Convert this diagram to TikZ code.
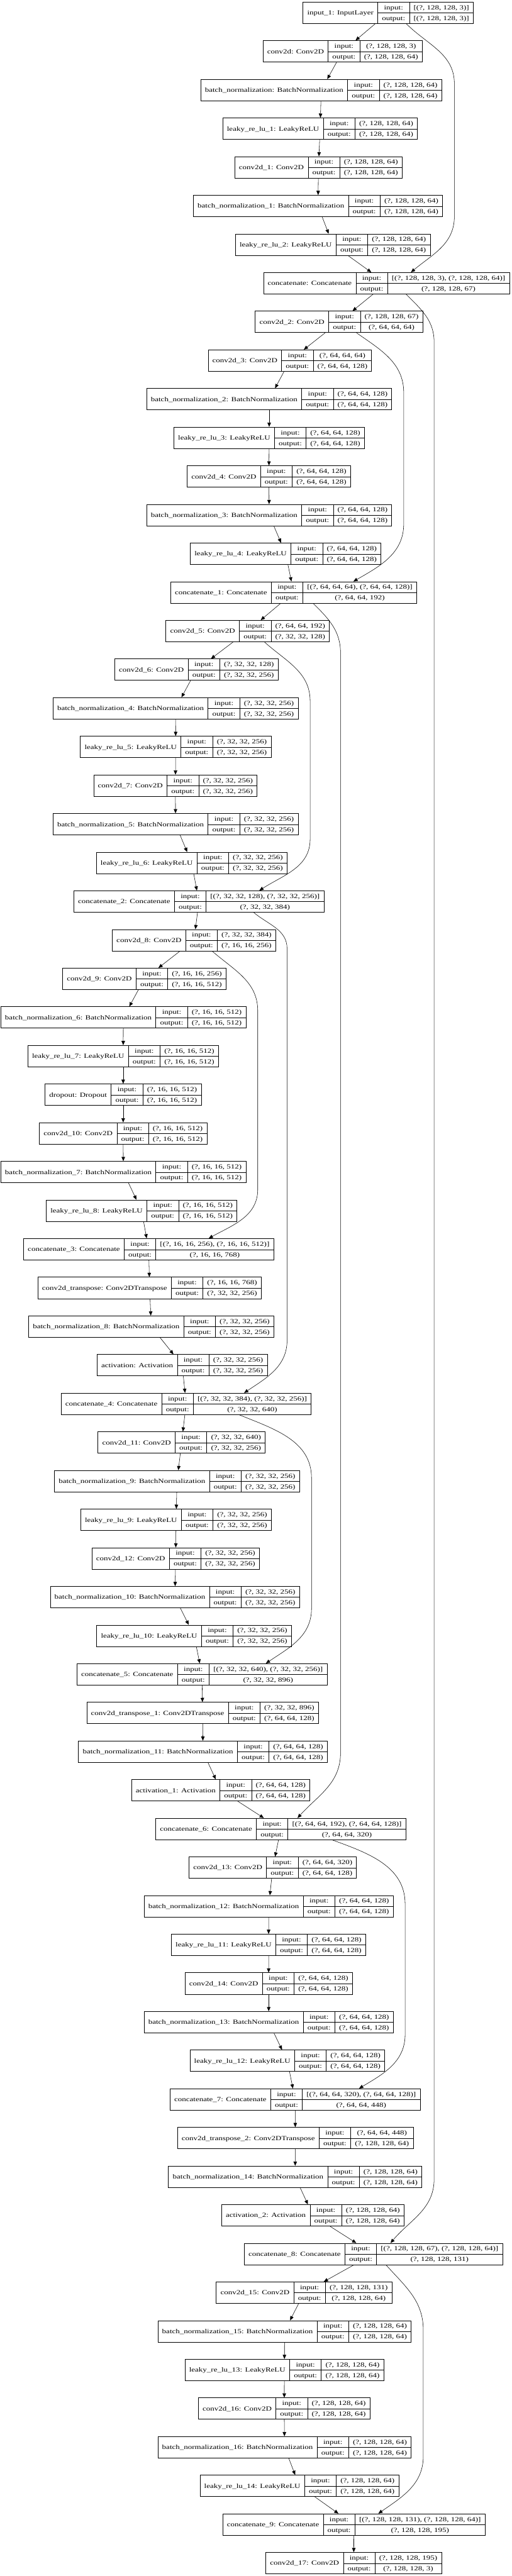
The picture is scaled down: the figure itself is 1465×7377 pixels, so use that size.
\documentclass[tikz,border=0pt]{standalone}
\usepackage{fontspec}
\setmainfont{Liberation Serif}[FakeStretch=1.3]
\usepackage{tikz}
\usetikzlibrary{arrows.meta,calc}
\setlength{\tabcolsep}{6.07pt}
\setlength{\arrayrulewidth}{0.6pt}
\renewcommand{\arraystretch}{1.42}
\newcommand{\lyr}[3]{%
  \begin{tabular}{c|c|c}
    & input: & #2\\ \cline{2-3}
    \raisebox{7.67pt}[0pt][0pt]{#1} & output: & #3
  \end{tabular}}

\begin{document}
\begin{tikzpicture}[->,>={Triangle[length=6pt,width=5pt]},line width=0.5pt,x=0.5pt,y=-0.5pt,
  layer/.style={draw,->,inner sep=0pt,line width=0.7pt,font=\fontsize{9}{10.8}\selectfont}]

    \useasboundingbox (0,0) rectangle (1465,7377);

    % The encoder
	\node [layer] at (1111.4,36.6) (in1) {\lyr{input\_1: InputLayer}{[(?, 128, 128, 3)]}{[(?, 128, 128, 3)]}};
	\node [layer] at (981.0,147.2) (c0) {\lyr{conv2d: Conv2D}{(?, 128, 128, 3)}{(?, 128, 128, 64)}};
	\node [layer] at (919.8,257.9) (bn0) {\lyr{batch\_normalization: BatchNormalization}{(?, 128, 128, 64)}{(?, 128, 128, 64)}};
	\node [layer] at (916.6,368.5) (lr1) {\lyr{leaky\_re\_lu\_1: LeakyReLU}{(?, 128, 128, 64)}{(?, 128, 128, 64)}};
	\node [layer] at (911.9,479.2) (c1) {\lyr{conv2d\_1: Conv2D}{(?, 128, 128, 64)}{(?, 128, 128, 64)}};
	\node [layer] at (910.5,589.9) (bn1) {\lyr{batch\_normalization\_1: BatchNormalization}{(?, 128, 128, 64)}{(?, 128, 128, 64)}};
	\node [layer] at (953.0,700.5) (lr2) {\lyr{leaky\_re\_lu\_2: LeakyReLU}{(?, 128, 128, 64)}{(?, 128, 128, 64)}};
	\node [layer] at (1106.7,811.2) (cat0) {\lyr{concatenate: Concatenate}{[(?, 128, 128, 3), (?, 128, 128, 64)]}{(?, 128, 128, 67)}};
	\node [layer] at (970.8,921.8) (c2) {\lyr{conv2d\_2: Conv2D}{(?, 128, 128, 67)}{(?, 64, 64, 64)}};
	\node [layer] at (830.1,1032.5) (c3) {\lyr{conv2d\_3: Conv2D}{(?, 64, 64, 64)}{(?, 64, 64, 128)}};
	\node [layer] at (770.8,1143.2) (bn2) {\lyr{batch\_normalization\_2: BatchNormalization}{(?, 64, 64, 128)}{(?, 64, 64, 128)}};
	\node [layer] at (770.8,1253.8) (lr3) {\lyr{leaky\_re\_lu\_3: LeakyReLU}{(?, 64, 64, 128)}{(?, 64, 64, 128)}};
	\node [layer] at (769.9,1364.5) (c4) {\lyr{conv2d\_4: Conv2D}{(?, 64, 64, 128)}{(?, 64, 64, 128)}};
	\node [layer] at (770.8,1475.1) (bn3) {\lyr{batch\_normalization\_3: BatchNormalization}{(?, 64, 64, 128)}{(?, 64, 64, 128)}};
	\node [layer] at (818.0,1585.8) (lr4) {\lyr{leaky\_re\_lu\_4: LeakyReLU}{(?, 64, 64, 128)}{(?, 64, 64, 128)}};
	\node [layer] at (840.9,1696.5) (cat1) {\lyr{concatenate\_1: Concatenate}{[(?, 64, 64, 64), (?, 64, 64, 128)]}{(?, 64, 64, 192)}};
	\node [layer] at (709.2,1807.1) (c5) {\lyr{conv2d\_5: Conv2D}{(?, 64, 64, 192)}{(?, 32, 32, 128)}};
	\node [layer] at (562.5,1917.8) (c6) {\lyr{conv2d\_6: Conv2D}{(?, 32, 32, 128)}{(?, 32, 32, 256)}};
	\node [layer] at (502.7,2028.4) (bn4) {\lyr{batch\_normalization\_4: BatchNormalization}{(?, 32, 32, 256)}{(?, 32, 32, 256)}};
	\node [layer] at (503.1,2139.1) (lr5) {\lyr{leaky\_re\_lu\_5: LeakyReLU}{(?, 32, 32, 256)}{(?, 32, 32, 256)}};
	\node [layer] at (502.2,2249.8) (c7) {\lyr{conv2d\_7: Conv2D}{(?, 32, 32, 256)}{(?, 32, 32, 256)}};
	\node [layer] at (502.7,2360.4) (bn5) {\lyr{batch\_normalization\_5: BatchNormalization}{(?, 32, 32, 256)}{(?, 32, 32, 256)}};
	\node [layer] at (548.9,2471.1) (lr6) {\lyr{leaky\_re\_lu\_6: LeakyReLU}{(?, 32, 32, 256)}{(?, 32, 32, 256)}};
	\node [layer] at (569.5,2581.7) (cat2) {\lyr{concatenate\_2: Concatenate}{[(?, 32, 32, 128), (?, 32, 32, 256)]}{(?, 32, 32, 384)}};
	\node [layer] at (555.5,2692.4) (c8) {\lyr{conv2d\_8: Conv2D}{(?, 32, 32, 384)}{(?, 16, 16, 256)}};
	\node [layer] at (413.4,2803.1) (c9) {\lyr{conv2d\_9: Conv2D}{(?, 16, 16, 256)}{(?, 16, 16, 512)}};
	\node [layer] at (353.2,2913.7) (bn6) {\lyr{batch\_normalization\_6: BatchNormalization}{(?, 16, 16, 512)}{(?, 16, 16, 512)}};
	\node [layer] at (352.7,3024.4) (lr7) {\lyr{leaky\_re\_lu\_7: LeakyReLU}{(?, 16, 16, 512)}{(?, 16, 16, 512)}};
	\node [layer] at (352.7,3135.0) (drop) {\lyr{dropout: Dropout}{(?, 16, 16, 512)}{(?, 16, 16, 512)}};
	\node [layer] at (352.7,3245.7) (c10) {\lyr{conv2d\_10: Conv2D}{(?, 16, 16, 512)}{(?, 16, 16, 512)}};
	\node [layer] at (353.2,3356.4) (bn7) {\lyr{batch\_normalization\_7: BatchNormalization}{(?, 16, 16, 512)}{(?, 16, 16, 512)}};
	\node [layer] at (405.5,3467.0) (lr8) {\lyr{leaky\_re\_lu\_8: LeakyReLU}{(?, 16, 16, 512)}{(?, 16, 16, 512)}};
	\node [layer] at (425.6,3577.7) (cat3) {\lyr{concatenate\_3: Concatenate}{[(?, 16, 16, 256), (?, 16, 16, 512)]}{(?, 16, 16, 768)}};

    % The decoder
	\node [layer] at (428.4,3688.3) (ct0) {\lyr{conv2d\_transpose: Conv2DTranspose}{(?, 16, 16, 768)}{(?, 32, 32, 256)}};
	\node [layer] at (433.1,3799.0) (bn8) {\lyr{batch\_normalization\_8: BatchNormalization}{(?, 32, 32, 256)}{(?, 32, 32, 256)}};
	\node [layer] at (521.8,3909.7) (act0) {\lyr{activation: Activation}{(?, 32, 32, 256)}{(?, 32, 32, 256)}};
	\node [layer] at (533.0,4020.3) (cat4) {\lyr{concatenate\_4: Concatenate}{[(?, 32, 32, 384), (?, 32, 32, 256)]}{(?, 32, 32, 640)}};
	\node [layer] at (520.0,4131.0) (c11) {\lyr{conv2d\_11: Conv2D}{(?, 32, 32, 640)}{(?, 32, 32, 256)}};
	\node [layer] at (506.9,4241.6) (bn9) {\lyr{batch\_normalization\_9: BatchNormalization}{(?, 32, 32, 256)}{(?, 32, 32, 256)}};
	\node [layer] at (504.1,4352.3) (lr9) {\lyr{leaky\_re\_lu\_9: LeakyReLU}{(?, 32, 32, 256)}{(?, 32, 32, 256)}};
	\node [layer] at (503.1,4463.0) (c12) {\lyr{conv2d\_12: Conv2D}{(?, 32, 32, 256)}{(?, 32, 32, 256)}};
	\node [layer] at (500.8,4573.6) (bn10) {\lyr{batch\_normalization\_10: BatchNormalization}{(?, 32, 32, 256)}{(?, 32, 32, 256)}};
	\node [layer] at (555.9,4684.3) (lr10) {\lyr{leaky\_re\_lu\_10: LeakyReLU}{(?, 32, 32, 256)}{(?, 32, 32, 256)}};
	\node [layer] at (578.3,4794.9) (cat5) {\lyr{concatenate\_5: Concatenate}{[(?, 32, 32, 640), (?, 32, 32, 256)]}{(?, 32, 32, 896)}};
	\node [layer] at (580.2,4905.6) (ct1) {\lyr{conv2d\_transpose\_1: Conv2DTranspose}{(?, 32, 32, 896)}{(?, 64, 64, 128)}};
	\node [layer] at (581.2,5016.3) (bn11) {\lyr{batch\_normalization\_11: BatchNormalization}{(?, 64, 64, 128)}{(?, 64, 64, 128)}};
	\node [layer] at (632.1,5126.9) (act1) {\lyr{activation\_1: Activation}{(?, 64, 64, 128)}{(?, 64, 64, 128)}};
	\node [layer] at (804.0,5237.6) (cat6) {\lyr{concatenate\_6: Concatenate}{[(?, 64, 64, 192), (?, 64, 64, 128)]}{(?, 64, 64, 320)}};
	\node [layer] at (781.1,5348.2) (c13) {\lyr{conv2d\_13: Conv2D}{(?, 64, 64, 320)}{(?, 64, 64, 128)}};
	\node [layer] at (769.4,5458.9) (bn12) {\lyr{batch\_normalization\_12: BatchNormalization}{(?, 64, 64, 128)}{(?, 64, 64, 128)}};
	\node [layer] at (769.0,5569.6) (lr11) {\lyr{leaky\_re\_lu\_11: LeakyReLU}{(?, 64, 64, 128)}{(?, 64, 64, 128)}};
	\node [layer] at (769.4,5680.2) (c14) {\lyr{conv2d\_14: Conv2D}{(?, 64, 64, 128)}{(?, 64, 64, 128)}};
	\node [layer] at (769.4,5790.9) (bn13) {\lyr{batch\_normalization\_13: BatchNormalization}{(?, 64, 64, 128)}{(?, 64, 64, 128)}};
	\node [layer] at (822.7,5901.5) (lr12) {\lyr{leaky\_re\_lu\_12: LeakyReLU}{(?, 64, 64, 128)}{(?, 64, 64, 128)}};
	\node [layer] at (845.1,6012.2) (cat7) {\lyr{concatenate\_7: Concatenate}{[(?, 64, 64, 320), (?, 64, 64, 128)]}{(?, 64, 64, 448)}};
	\node [layer] at (845.6,6122.9) (ct2) {\lyr{conv2d\_transpose\_2: Conv2DTranspose}{(?, 64, 64, 448)}{(?, 128, 128, 64)}};
	\node [layer] at (845.1,6233.5) (bn14) {\lyr{batch\_normalization\_14: BatchNormalization}{(?, 128, 128, 64)}{(?, 128, 128, 64)}};
	\node [layer] at (896.0,6344.2) (act2) {\lyr{activation\_2: Activation}{(?, 128, 128, 64)}{(?, 128, 128, 64)}};
	\node [layer] at (1069.3,6454.8) (cat8) {\lyr{concatenate\_8: Concatenate}{[(?, 128, 128, 67), (?, 128, 128, 64)]}{(?, 128, 128, 131)}};
	\node [layer] at (870.8,6565.5) (c15) {\lyr{conv2d\_15: Conv2D}{(?, 128, 128, 131)}{(?, 128, 128, 64)}};
	\node [layer] at (814.7,6676.2) (bn15) {\lyr{batch\_normalization\_15: BatchNormalization}{(?, 128, 128, 64)}{(?, 128, 128, 64)}};
	\node [layer] at (814.3,6786.8) (lr13) {\lyr{leaky\_re\_lu\_13: LeakyReLU}{(?, 128, 128, 64)}{(?, 128, 128, 64)}};
	\node [layer] at (813.8,6897.5) (c16) {\lyr{conv2d\_16: Conv2D}{(?, 128, 128, 64)}{(?, 128, 128, 64)}};
	\node [layer] at (814.7,7008.1) (bn16) {\lyr{batch\_normalization\_16: BatchNormalization}{(?, 128, 128, 64)}{(?, 128, 128, 64)}};
	\node [layer] at (857.2,7118.8) (lr14) {\lyr{leaky\_re\_lu\_14: LeakyReLU}{(?, 128, 128, 64)}{(?, 128, 128, 64)}};
	\node [layer] at (1013.3,7229.5) (cat9) {\lyr{concatenate\_9: Concatenate}{[(?, 128, 128, 131), (?, 128, 128, 64)]}{(?, 128, 128, 195)}};
	\node [layer] at (1012.8,7340.1) (c17) {\lyr{conv2d\_17: Conv2D}{(?, 128, 128, 195)}{(?, 128, 128, 3)}};

	% Graph edges
	\path[->]
	(in1) edge (c0)   (c0) edge (bn0)   (bn0) edge (lr1)   (lr1) edge (c1)
	(c1) edge (bn1)   (bn1) edge (lr2)  (lr2) edge (cat0)  (cat0) edge (c2)
	(c2) edge (c3)    (c3) edge (bn2)   (bn2) edge (lr3)   (lr3) edge (c4)
	(c4) edge (bn3)   (bn3) edge (lr4)  (lr4) edge (cat1)  (cat1) edge (c5)
	(c5) edge (c6)    (c6) edge (bn4)   (bn4) edge (lr5)   (lr5) edge (c7)
	(c7) edge (bn5)   (bn5) edge (lr6)  (lr6) edge (cat2)  (cat2) edge (c8)
	(c8) edge (c9)    (c9) edge (bn6)   (bn6) edge (lr7)   (lr7) edge (drop)
	(drop) edge (c10) (c10) edge (bn7)  (bn7) edge (lr8)   (lr8) edge (cat3)
	(cat3) edge (ct0) (ct0) edge (bn8)  (bn8) edge (act0)  (act0) edge (cat4)
	(cat4) edge (c11) (c11) edge (bn9)  (bn9) edge (lr9)   (lr9) edge (c12)
	(c12) edge (bn10) (bn10) edge (lr10) (lr10) edge (cat5) (cat5) edge (ct1)
	(ct1) edge (bn11) (bn11) edge (act1) (act1) edge (cat6) (cat6) edge (c13)
	(c13) edge (bn12) (bn12) edge (lr11) (lr11) edge (c14) (c14) edge (bn13)
	(bn13) edge (lr12) (lr12) edge (cat7) (cat7) edge (ct2) (ct2) edge (bn14)
	(bn14) edge (act2) (act2) edge (cat8) (cat8) edge (c15) (c15) edge (bn15)
	(bn15) edge (lr13) (lr13) edge (c16) (c16) edge (bn16) (bn16) edge (lr14)
	(lr14) edge (cat9) (cat9) edge (c17);

	% Skip connections
	\draw ($(in1.south)+(52,0)$) to[out=-45,in=90] (1301,240) -- (1301,620) to[out=-90,in=40] ($(cat0.north)+(70,0)$);
	\draw ($(cat0.south)+(56,0)$) to[out=-45,in=90] (1243,980) -- (1243,6240) to[out=-90,in=50] ($(cat8.north)+(49,0)$);
	\draw ($(c2.south)+(50,0)$) to[out=-35,in=90] (1156,1125) -- (1156,1500) to[out=-90,in=30] ($(cat1.north)+(171,0)$);
	\draw ($(cat1.south)+(56,0)$) to[out=-45,in=90] (975,1870) -- (975,5020) to[out=-90,in=48] ($(cat6.north)+(48,0)$);
	\draw ($(c5.south)+(48,0)$) to[out=-42,in=90] (888,2008) -- (888,2403) to[out=-90,in=33] ($(cat2.north)+(173,0)$);
	\draw ($(cat2.south)+(157,0)$) to[out=-40,in=90] (822,2717) -- (822,3838) to[out=-90,in=34] ($(cat4.north)+(166,0)$);
	\draw ($(c8.south)+(52,0)$) to[out=-41,in=90] (738,2895) -- (738,3406) to[out=-90,in=29] ($(cat3.north)+(172,0)$);
	\draw ($(cat4.south)+(152,0)$) to[out=-22,in=90] (892,4233) -- (892,4606) to[out=-90,in=34] ($(cat5.north)+(183,0)$);
	\draw ($(cat6.south)+(147,0)$) to[out=-20,in=90] (1160,5453) -- (1160,5826) to[out=-90,in=31] ($(cat7.north)+(183,0)$);
	\draw ($(cat8.south)+(36,0)$) to[out=-48,in=90] (1212,6673) -- (1212,7034) to[out=-90,in=35] ($(cat9.north)+(70,0)$);

\end{tikzpicture}
\end{document}
